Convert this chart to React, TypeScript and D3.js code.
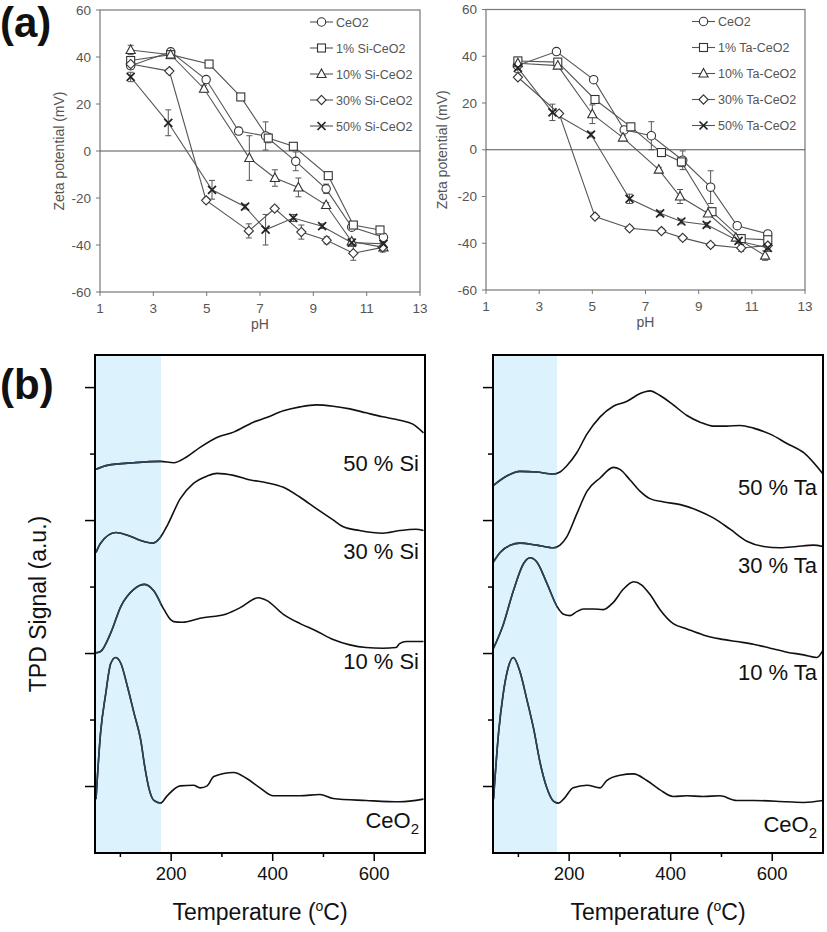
import React from 'react';
import * as d3 from 'd3';

const FONT = '"Liberation Sans", Arial, Helvetica, sans-serif';

// ---------- (a) zeta potential vs pH ----------
const PH_TICKS = [1, 3, 5, 7, 9, 11, 13];
const ZETA_TICKS = [-60, -40, -20, 0, 20, 40, 60];
const MARKER_KINDS = ['circle', 'square', 'triangle', 'diamond', 'cross'];

const SI_NAMES = ['CeO2', '1% Si-CeO2', '10% Si-CeO2', '30% Si-CeO2', '50% Si-CeO2'];
const TA_NAMES = ['CeO2', '1% Ta-CeO2', '10% Ta-CeO2', '30% Ta-CeO2', '50% Ta-CeO2'];

// Si doped
const SI_CEO2_PH = [2.15, 3.65, 4.98, 6.2, 7.21, 8.34, 9.48, 10.44, 11.63];
const SI_CEO2_ZETA = [36.3, 42.2, 30.4, 8.5, 6.4, -4.4, -16.1, -32.4, -36.7];
const SI_CEO2_ERR = [1.5, 1, 1, 1.5, 6, 4, 2, 1, 1.5];

const SI_1_PH = [2.15, 3.65, 5.09, 6.28, 7.31, 8.25, 9.56, 10.5, 11.5];
const SI_1_ZETA = [38.5, 41, 37, 23, 5.5, 2, -10.5, -31.5, -33.6];
const SI_1_ERR = [1, 1, 1, 1, 2, 1, 1, 1, 1];

const SI_10_PH = [2.15, 3.65, 4.9, 6.6, 7.56, 8.44, 9.48, 10.44, 11.63];
const SI_10_ZETA = [43, 41, 26.5, -3, -11.5, -15.5, -23, -38.5, -41];
const SI_10_ERR = [2, 1, 1.5, 9.5, 3.5, 4, 1, 1, 1];

const SI_30_PH = [2.15, 3.6, 4.98, 6.58, 7.55, 8.55, 9.5, 10.5, 11.6];
const SI_30_ZETA = [37, 34, -21, -34, -24.5, -34.5, -38, -43.5, -41];
const SI_30_ERR = [1, 1, 1, 3, 1, 3, 1.5, 3, 2];

const SI_50_PH = [2.15, 3.56, 5.2, 6.44, 7.21, 8.25, 9.33, 10.44, 11.63];
const SI_50_ZETA = [31.5, 12, -16.5, -23.7, -33.5, -28.5, -32, -39, -39.5];
const SI_50_ERR = [2, 5.5, 4, 1, 6.5, 1.5, 1, 1.5, 1.5];

// Ta doped
const TA_CEO2_PH = [2.18, 3.65, 5.05, 6.2, 7.22, 8.4, 9.45, 10.45, 11.6];
const TA_CEO2_ZETA = [36, 42, 30, 8.5, 6, -4.5, -16, -32.5, -36];
const TA_CEO2_ERR = [1, 1, 1, 1, 6, 4, 7, 1, 1];

const TA_1_PH = [2.2, 3.7, 5.1, 6.45, 7.6, 8.35, 9.5, 10.6, 11.6];
const TA_1_ZETA = [38, 37.5, 21.5, 9.8, -1.2, -5.2, -26.5, -38, -38.5];
const TA_1_ERR = [1.5, 1, 1.5, 1, 1, 2, 1.5, 1, 1];

const TA_10_PH = [2.2, 3.7, 5.0, 6.15, 7.5, 8.3, 9.35, 10.4, 11.5];
const TA_10_ZETA = [37, 36, 15.2, 5.2, -8.5, -20, -27.3, -37.6, -45.3];
const TA_10_ERR = [1, 1, 4, 1, 1, 3, 1, 1, 2];

const TA_30_PH = [2.2, 3.75, 5.1, 6.4, 7.6, 8.4, 9.45, 10.6, 11.6];
const TA_30_ZETA = [31, 15.5, -28.6, -33.6, -34.8, -37.7, -40.7, -42, -41];
const TA_30_ERR = [1, 1, 1, 1, 1, 1, 1, 1.5, 1];

const TA_50_PH = [2.2, 3.5, 4.95, 6.4, 7.55, 8.35, 9.3, 10.5, 11.6];
const TA_50_ZETA = [35, 16, 6.5, -21, -27.2, -30.7, -32.1, -39, -42];
const TA_50_ERR = [2, 3.5, 1, 2, 1, 1, 1, 1, 1.5];

// ---------- (b) TPD signal vs temperature ----------
const TEMP_TICKS = [100, 200, 300, 400, 500, 600];
const TEMP_LABELS = [200, 400, 600];
const SIGNAL_TICKS = [1, 2, 3, 4, 5, 6, 7];

const CE_SI_T = [52, 61, 71, 81, 91, 101, 114, 127, 140, 148, 156, 166, 179, 192, 218, 244, 257, 271, 284, 323, 349, 375, 401, 454, 493, 519, 584, 650, 697];
const CE_SI_S = [0.81, 1.81, 2.39, 2.85, 2.94, 2.85, 2.5, 2.1, 1.7, 1.3, 0.98, 0.79, 0.75, 0.86, 1.01, 1.02, 0.98, 1.01, 1.15, 1.21, 1.12, 0.98, 0.86, 0.86, 0.88, 0.82, 0.79, 0.77, 0.81];
const SI10_T = [52, 61, 81, 101, 127, 148, 166, 186, 199, 205, 222, 257, 310, 336, 372, 388, 421, 454, 486, 519, 552, 584, 617, 643, 650, 663, 697];
const SI10_S = [3.01, 3.03, 3.31, 3.71, 3.97, 4.04, 3.94, 3.66, 3.51, 3.48, 3.47, 3.53, 3.6, 3.69, 3.84, 3.8, 3.59, 3.45, 3.34, 3.21, 3.13, 3.09, 3.08, 3.09, 3.15, 3.18, 3.18];
const SI30_T = [52, 61, 91, 114, 140, 163, 179, 192, 218, 244, 271, 290, 323, 356, 388, 421, 454, 486, 519, 538, 571, 617, 650, 682, 697];
const SI30_S = [4.52, 4.66, 4.82, 4.78, 4.7, 4.66, 4.75, 4.92, 5.33, 5.56, 5.67, 5.71, 5.68, 5.61, 5.57, 5.5, 5.35, 5.18, 5.01, 4.91, 4.85, 4.81, 4.85, 4.87, 4.85];
const SI50_T = [52, 74, 127, 179, 205, 231, 257, 290, 323, 362, 388, 421, 454, 486, 519, 552, 584, 617, 650, 676, 697];
const SI50_S = [5.77, 5.83, 5.87, 5.89, 5.87, 5.96, 6.1, 6.25, 6.33, 6.48, 6.55, 6.65, 6.71, 6.74, 6.72, 6.68, 6.62, 6.56, 6.51, 6.45, 6.32];

const CE_TA_T = [51, 61, 70, 80, 90, 103, 116, 130, 143, 156, 169, 179, 189, 208, 235, 261, 274, 300, 327, 353, 379, 405, 432, 464, 497, 530, 563, 629, 662, 700];
const CE_TA_S = [0.81, 1.81, 2.39, 2.79, 2.94, 2.73, 2.33, 1.87, 1.35, 0.98, 0.78, 0.75, 0.81, 0.98, 1.02, 0.98, 1.09, 1.17, 1.19, 1.09, 0.95, 0.85, 0.86, 0.85, 0.86, 0.79, 0.79, 0.77, 0.76, 0.79];
const TA10_T = [51, 70, 90, 110, 123, 136, 156, 176, 189, 202, 215, 228, 248, 267, 287, 307, 327, 343, 359, 379, 405, 432, 464, 497, 530, 563, 596, 629, 662, 688, 700];
const TA10_S = [3.08, 3.43, 3.94, 4.35, 4.44, 4.38, 4.06, 3.71, 3.59, 3.57, 3.63, 3.67, 3.67, 3.66, 3.77, 3.97, 4.08, 4.03, 3.89, 3.66, 3.45, 3.37, 3.28, 3.22, 3.18, 3.14, 3.08, 3.02, 2.98, 2.94, 3.05];
const TA30_T = [51, 64, 84, 103, 136, 169, 182, 195, 215, 235, 261, 287, 300, 320, 340, 359, 386, 419, 451, 484, 517, 550, 583, 616, 648, 681, 700];
const TA30_S = [4.38, 4.52, 4.63, 4.66, 4.63, 4.59, 4.63, 4.75, 5.1, 5.44, 5.64, 5.8, 5.77, 5.61, 5.44, 5.33, 5.28, 5.24, 5.16, 5.04, 4.87, 4.69, 4.61, 4.59, 4.61, 4.63, 4.61];
const TA50_T = [51, 77, 103, 136, 169, 182, 195, 215, 235, 261, 287, 313, 340, 359, 379, 405, 432, 458, 484, 510, 537, 563, 596, 629, 662, 700];
const TA50_S = [5.53, 5.67, 5.74, 5.73, 5.7, 5.73, 5.82, 6.02, 6.3, 6.56, 6.72, 6.79, 6.91, 6.95, 6.88, 6.74, 6.58, 6.48, 6.42, 6.42, 6.43, 6.39, 6.3, 6.16, 6.02, 5.7];

const SI_LABELS = ['CeO', '10 % Si', '30 % Si', '50 % Si'];
const TA_LABELS = ['CeO', '10 % Ta', '30 % Ta', '50 % Ta'];

type Series = { ph: number[]; zeta: number[]; err: number[] };

const SI_SERIES: Series[] = [
  { ph: SI_CEO2_PH, zeta: SI_CEO2_ZETA, err: SI_CEO2_ERR },
  { ph: SI_1_PH, zeta: SI_1_ZETA, err: SI_1_ERR },
  { ph: SI_10_PH, zeta: SI_10_ZETA, err: SI_10_ERR },
  { ph: SI_30_PH, zeta: SI_30_ZETA, err: SI_30_ERR },
  { ph: SI_50_PH, zeta: SI_50_ZETA, err: SI_50_ERR },
];
const TA_SERIES: Series[] = [
  { ph: TA_CEO2_PH, zeta: TA_CEO2_ZETA, err: TA_CEO2_ERR },
  { ph: TA_1_PH, zeta: TA_1_ZETA, err: TA_1_ERR },
  { ph: TA_10_PH, zeta: TA_10_ZETA, err: TA_10_ERR },
  { ph: TA_30_PH, zeta: TA_30_ZETA, err: TA_30_ERR },
  { ph: TA_50_PH, zeta: TA_50_ZETA, err: TA_50_ERR },
];

const SI_CURVES = [[CE_SI_T, CE_SI_S], [SI10_T, SI10_S], [SI30_T, SI30_S], [SI50_T, SI50_S]];
const TA_CURVES = [[CE_TA_T, CE_TA_S], [TA10_T, TA10_S], [TA30_T, TA30_S], [TA50_T, TA50_S]];

const Marker = ({ kind, cx, cy }: { kind: string; cx: number; cy: number }) => {
  const st = { fill: '#fff', stroke: '#333', strokeWidth: 1.1 };
  if (kind === 'circle') return <circle cx={cx} cy={cy} r={4.2} {...st} />;
  if (kind === 'square') return <rect x={cx - 4} y={cy - 4} width={8} height={8} {...st} />;
  if (kind === 'triangle')
    return <path d={`M${cx},${cy - 5}L${cx + 4.6},${cy + 3.5}L${cx - 4.6},${cy + 3.5}Z`} {...st} />;
  if (kind === 'diamond')
    return <path d={`M${cx},${cy - 4.6}L${cx + 4.6},${cy}L${cx},${cy + 4.6}L${cx - 4.6},${cy}Z`} {...st} />;
  return (
    <path d={`M${cx - 4},${cy - 4}L${cx + 4},${cy + 4}M${cx - 4},${cy + 4}L${cx + 4},${cy - 4}`}
      stroke="#222" strokeWidth={1.7} fill="none" />
  );
};

const ZetaPanel = ({ x0, x1, y0, y1, titleX, legendX, names, series }: any) => {
  const x = d3.scaleLinear().domain([1, 13]).range([x0, x1]);
  const y = d3.scaleLinear().domain([-60, 60]).range([y0, y1]);
  const line = d3.line<number>();
  const grey = '#777';
  return (
    <g fontFamily={FONT}>
      <rect x={x0} y={y1} width={x1 - x0} height={y0 - y1} fill="none" stroke={grey} strokeWidth={1.2} />
      <line x1={x0} x2={x1} y1={y(0)} y2={y(0)} stroke="#555" strokeWidth={1.2} />
      {ZETA_TICKS.map(t => (
        <g key={t}>
          <line x1={x0 - 4} x2={x0} y1={y(t)} y2={y(t)} stroke={grey} />
          <text x={x0 - 9} y={y(t) + 4.5} textAnchor="end" fontSize={13.5} fill="#555">{t}</text>
        </g>
      ))}
      {PH_TICKS.map(t => (
        <g key={t}>
          <line x1={x(t)} x2={x(t)} y1={y0} y2={y0 + 4} stroke={grey} />
          <text x={x(t)} y={y0 + 21} textAnchor="middle" fontSize={13.5} fill="#555">{t}</text>
        </g>
      ))}
      <text x={(x0 + x1) / 2} y={y0 + 37} textAnchor="middle" fontSize={14} fill="#555">pH</text>
      <text transform={`translate(${titleX},${y(0)}) rotate(-90)`} textAnchor="middle" fontSize={14} fill="#555">
        Zeta potential (mV)
      </text>
      {series.map((s: Series, i: number) => (
        <path key={'l' + i}
          d={line.x((_, j) => x(s.ph[j])).y(v => y(v))(s.zeta) || ''}
          fill="none" stroke="#555" strokeWidth={1.1} />
      ))}
      {series.map((s: Series, i: number) =>
        s.zeta.map((v, j) => {
          const cx = x(s.ph[j]);
          return (
            <g key={`e${i}-${j}`} stroke="#555" strokeWidth={1}>
              <line x1={cx} x2={cx} y1={y(v - s.err[j])} y2={y(v + s.err[j])} />
              <line x1={cx - 3} x2={cx + 3} y1={y(v - s.err[j])} y2={y(v - s.err[j])} />
              <line x1={cx - 3} x2={cx + 3} y1={y(v + s.err[j])} y2={y(v + s.err[j])} />
            </g>
          );
        })
      )}
      {series.map((s: Series, i: number) =>
        s.zeta.map((v, j) => <Marker key={`m${i}-${j}`} kind={MARKER_KINDS[i]} cx={x(s.ph[j])} cy={y(v)} />)
      )}
      {names.map((n: string, i: number) => {
        const ly = y1 + 12 + i * 26;
        return (
          <g key={n}>
            <line x1={legendX} x2={legendX + 23} y1={ly} y2={ly} stroke="#555" strokeWidth={1.1} />
            <Marker kind={MARKER_KINDS[i]} cx={legendX + 11.5} cy={ly} />
            <text x={legendX + 26} y={ly + 4.5} fontSize={12.5} fill="#555">{n}</text>
          </g>
        );
      })}
    </g>
  );
};

const TpdPanel = ({ x0, x1, bandEnd, curves, labels, labelY, clipId, showYTitle }: any) => {
  const yTop = 355, yBot = 853;
  const x = d3.scaleLinear().domain([50, 700]).range([x0, x1]);
  const y = d3.scaleLinear().domain([0, 7.49]).range([yBot, yTop]);
  const line = d3.line<number>().curve(d3.curveMonotoneX);
  const paths = curves.map(([T, S]: number[][]) => line.x((_, j) => x(T[j])).y(v => y(v))(S) || '');
  return (
    <g fontFamily={FONT}>
      <defs>
        <clipPath id={clipId}><rect x={x0} y={yTop} width={x1 - x0} height={yBot - yTop} /></clipPath>
        <clipPath id={clipId + 'b'}><rect x={x0} y={yTop} width={x(bandEnd) - x0} height={yBot - yTop} /></clipPath>
      </defs>
      <rect x={x0} y={yTop} width={x(bandEnd) - x0} height={yBot - yTop} fill="#dcf2fc" />
      <g clipPath={`url(#${clipId})`}>
        {paths.map((d: string, i: number) => (
          <path key={i} d={d} fill="none" stroke="#111" strokeWidth={1.6} strokeLinejoin="round" />
        ))}
      </g>
      <g clipPath={`url(#${clipId}b)`}>
        {paths.map((d: string, i: number) => (
          <path key={i} d={d} fill="none" stroke="#2e4257" strokeWidth={1.6} strokeLinejoin="round" />
        ))}
      </g>
      <rect x={x0} y={yTop} width={x1 - x0} height={yBot - yTop} fill="none" stroke="#000" strokeWidth={2} />
      {SIGNAL_TICKS.map(t => (
        <line key={t} x1={x0 - (t % 2 ? 10 : 5)} x2={x0} y1={y(t)} y2={y(t)} stroke="#000" strokeWidth={1.5} />
      ))}
      {TEMP_TICKS.map(t => (
        <line key={t} x1={x(t)} x2={x(t)} y1={yBot} y2={yBot + (TEMP_LABELS.includes(t) ? 8 : 4)} stroke="#000" strokeWidth={1.5} />
      ))}
      {TEMP_LABELS.map(t => (
        <text key={t} x={x(t)} y={yBot + 27} textAnchor="middle" fontSize={18.5} fill="#111">{t}</text>
      ))}
      <text x={(x0 + x1) / 2} y={yBot + 67} textAnchor="middle" fontSize={23} fill="#111">
        Temperature (<tspan dy={-9} fontSize={14}>o</tspan><tspan dy={9}>C)</tspan>
      </text>
      {showYTitle && (
        <text transform={`translate(46,${(yTop + yBot) / 2}) rotate(-90)`} textAnchor="middle" fontSize={23} fill="#111">
          TPD Signal (a.u.)
        </text>
      )}
      {labels.map((l: string, i: number) => (
        <text key={l} x={x1 - 6} y={labelY[i]} textAnchor="end" fontSize={22} fill="#111">
          {i === 0 ? (<>{l}<tspan dy={6} fontSize={15}>2</tspan></>) : l}
        </text>
      ))}
    </g>
  );
};

export default function App() {
  return (
    <svg width={827} height={932} style={{ position: 'absolute', left: 0, top: 0, background: '#fff' }}>
      <rect width={827} height={932} fill="#fff" />
      <text x={0} y={37} fontFamily={FONT} fontWeight="bold" fontSize={42} fill="#111">(a)</text>
      <text x={0} y={399} fontFamily={FONT} fontWeight="bold" fontSize={42} fill="#111">(b)</text>
      <ZetaPanel x0={100} x1={420} y0={292} y1={10} titleX={64} legendX={310} names={SI_NAMES} series={SI_SERIES} />
      <ZetaPanel x0={486} x1={805} y0={290} y1={9.5} titleX={447} legendX={692} names={TA_NAMES} series={TA_SERIES} />
      <TpdPanel x0={95} x1={425} bandEnd={180} curves={SI_CURVES} labels={SI_LABELS}
        labelY={[828, 669, 559, 471]} clipId="clipSi" showYTitle />
      <TpdPanel x0={493} x1={823} bandEnd={176} curves={TA_CURVES} labels={TA_LABELS}
        labelY={[832, 680, 573, 495]} clipId="clipTa" showYTitle={false} />
    </svg>
  );
}
